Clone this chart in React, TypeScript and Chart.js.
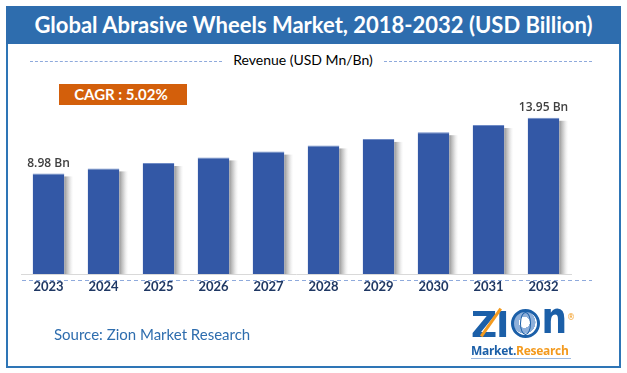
import React, { useEffect, useRef } from "react";
import { Chart, registerables } from "chart.js";

Chart.register(...registerables);

const years = ["2023", "2024", "2025", "2026", "2027", "2028", "2029", "2030", "2031", "2032"];
const revenue = [8.98, 9.43, 9.91, 10.41, 10.93, 11.48, 12.06, 12.66, 13.3, 13.95];
const valueLabels = ["8.98 Bn", "", "", "", "", "", "", "", "", "13.95 Bn"];

const titleText = "Global Abrasive Wheels Market, 2018-2032 (USD Billion)";
const subtitleText = "Revenue (USD Mn/Bn)";
const cagrText = "CAGR : 5.02%";
const sourceText = "Source: Zion Market Research";

const shadowPlugin = {
  id: "barShadow",
  beforeDatasetDraw(chart: any) {
    const ctx = chart.ctx;
    const meta = chart.getDatasetMeta(0);
    ctx.save();
    meta.data.forEach((bar: any) => {
      const right = bar.x + bar.width / 2;
      const top = bar.y + 3;
      const bottom = bar.base;
      const g = ctx.createLinearGradient(right, 0, right + 9, 0);
      g.addColorStop(0, "rgba(60,60,60,0.55)");
      g.addColorStop(0.5, "rgba(120,120,120,0.3)");
      g.addColorStop(1, "rgba(200,200,200,0)");
      ctx.fillStyle = g;
      ctx.fillRect(right, top, 9, bottom - top);
    });
    ctx.restore();
  },
};

const labelPlugin = {
  id: "valueLabels",
  afterDatasetsDraw(chart: any) {
    const ctx = chart.ctx;
    const meta = chart.getDatasetMeta(0);
    ctx.save();
    ctx.font = '600 12px "Open Sans", sans-serif';
    ctx.fillStyle = "#404040";
    ctx.textAlign = "center";
    ctx.textBaseline = "bottom";
    meta.data.forEach((bar: any, i: number) => {
      const t = valueLabels[i];
      if (t) ctx.fillText(t, bar.x, bar.y - 4);
    });
    ctx.restore();
  },
  afterDraw(chart: any) {
    const ctx = chart.ctx;
    const area = chart.chartArea;
    ctx.save();
    ctx.strokeStyle = "#8FAADC";
    ctx.lineWidth = 1.2;
    ctx.setLineDash([4, 3]);
    ctx.beginPath();
    ctx.moveTo(area.left + 1, area.bottom + 6.5);
    ctx.lineTo(592, area.bottom + 6.5);
    ctx.stroke();
    ctx.restore();
  },
};

function ChartCanvas() {
  const ref = useRef<HTMLCanvasElement | null>(null);
  useEffect(() => {
    if (!ref.current) return;
    const chart = new Chart(ref.current, {
      type: "bar",
      data: {
        labels: years,
        datasets: [
          {
            data: revenue,
            backgroundColor: "#3358A6",
            borderColor: "#6F8BC6",
            borderWidth: { top: 1, left: 0, right: 0, bottom: 0 } as any,
            borderSkipped: "bottom",
            categoryPercentage: 1,
            barPercentage: 0.575,
          },
        ],
      },
      options: {
        responsive: false,
        animation: false,
        layout: { padding: { left: 21, right: 56, top: 50, bottom: 74 } },
        plugins: { legend: { display: false }, tooltip: { enabled: false } },
        scales: {
          x: {
            grid: { display: false },
            border: { display: true, color: "#D9D9D9", width: 1 },
            ticks: {
              color: "#1F3864",
              padding: -3,
              font: { family: '"Liberation Sans Narrow", "Lato", sans-serif', weight: "bold", size: 13 },
            },
            afterFit: (scale: any) => {
              scale.height = 25;
            },
          },
          y: { display: false, min: 0, max: 20 },
        },
      },
      plugins: [shadowPlugin, labelPlugin],
    });
    return () => chart.destroy();
  }, []);
  return (
    <canvas
      ref={ref}
      width={627}
      height={373}
      style={{ position: "absolute", left: 0, top: 0, width: 627, height: 373, display: "block" }}
    />
  );
}

function Logo() {
  const blue = "#1B5FA8";
  const orange = "#F39A1E";
  return (
    <div style={{ position: "absolute", left: 471, top: 305, width: 104, height: 54 }}>
      <div
        style={{
          position: "relative",
          height: 36,
          display: "flex",
          alignItems: "flex-end",
          fontFamily: '"DejaVu Sans", sans-serif',
          fontWeight: 900,
          fontSize: 36,
          lineHeight: "32px",
          color: blue,
          letterSpacing: -2,
        }}
      >
        <span>Z</span>
        <span style={{ marginLeft: 1 }}>I</span>
        <span
          style={{
            display: "inline-block",
            width: 29,
            height: 29,
            borderRadius: "50%",
            border: `3px solid ${blue}`,
            boxSizing: "border-box",
            margin: "0 2px 3px 3px",
            background: "radial-gradient(circle at 45% 45%, #ffffff 0 30%, #8FB0DA 31% 62%, #ffffff 63%)",
            position: "relative",
          }}
        >
          <span
            style={{
              position: "absolute",
              left: 6,
              top: 0,
              width: 11,
              height: 23,
              borderRadius: "50%",
              border: `1.5px solid ${blue}`,
              boxSizing: "border-box",
            }}
          />
        </span>
        <span style={{ display: "inline-block", transform: "scaleY(1.25)", transformOrigin: "bottom", marginBottom: 3 }}>n</span>
        <div
          style={{
            position: "absolute",
            left: 3,
            top: 16,
            width: 34,
            height: 3,
            background: orange,
            transform: "rotate(-55deg)",
          }}
        />
        <span style={{ position: "absolute", right: 0, top: -3, fontSize: 8, color: orange, fontWeight: 400, letterSpacing: 0 }}>®</span>
      </div>
      <div
        style={{
          fontFamily: '"Open Sans", sans-serif',
          fontWeight: 700,
          fontSize: 12,
          lineHeight: "14px",
          marginTop: 3,
          whiteSpace: "nowrap",
          borderBottom: `1px solid #9DB9DE`,
          width: 100,
          letterSpacing: -0.3,
        }}
      >
        <span style={{ color: blue }}>Market.</span>
        <span style={{ color: orange }}>Research</span>
      </div>
    </div>
  );
}

export default function App() {
  const lato = 'Lato, "Open Sans", sans-serif';
  return (
    <div
      style={{
        position: "absolute",
        left: 0,
        top: 0,
        width: 627,
        height: 373,
        background: "#ffffff",
        overflow: "hidden",
        fontFamily: lato,
      }}
    >
      <div
        style={{
          position: "absolute",
          left: 6,
          top: 6,
          width: 615,
          height: 362,
          border: "2px solid #2E75B6",
          boxSizing: "border-box",
        }}
      />
      <div
        style={{
          position: "absolute",
          left: 6,
          top: 6,
          width: 615,
          height: 38,
          background: "#2E6DAE",
          color: "#ffffff",
          fontWeight: 700,
          fontSize: 22,
          lineHeight: "38px",
          textAlign: "center",
          whiteSpace: "nowrap",
        }}
      >
        {titleText}
      </div>
      <div
        style={{
          position: "absolute",
          left: 30,
          top: 61,
          width: 192,
          borderTop: "1.2px dashed #8FAADC",
        }}
      />
      <div
        style={{
          position: "absolute",
          left: 384,
          top: 61,
          width: 208,
          borderTop: "1.2px dashed #8FAADC",
        }}
      />
      <div
        style={{
          position: "absolute",
          left: 222,
          width: 162,
          top: 51,
          lineHeight: "18px",
          fontSize: 14,
          textAlign: "center",
          color: "#000000",
          whiteSpace: "nowrap",
        }}
      >
        {subtitleText}
      </div>
      <div
        style={{
          position: "absolute",
          left: 59,
          top: 84,
          width: 128,
          height: 21,
          background: "#D35F0B",
          color: "#ffffff",
          fontWeight: 700,
          fontSize: 15,
          lineHeight: "21px",
          textAlign: "center",
          paddingRight: 4,
          boxSizing: "border-box",
          whiteSpace: "nowrap",
        }}
      >
        {cagrText}
      </div>
      <ChartCanvas />
      <div
        style={{
          position: "absolute",
          left: 54,
          top: 324,
          lineHeight: "20px",
          fontSize: 15,
          color: "#2E6DAE",
          whiteSpace: "nowrap",
        }}
      >
        {sourceText}
      </div>
      <Logo />
    </div>
  );
}
